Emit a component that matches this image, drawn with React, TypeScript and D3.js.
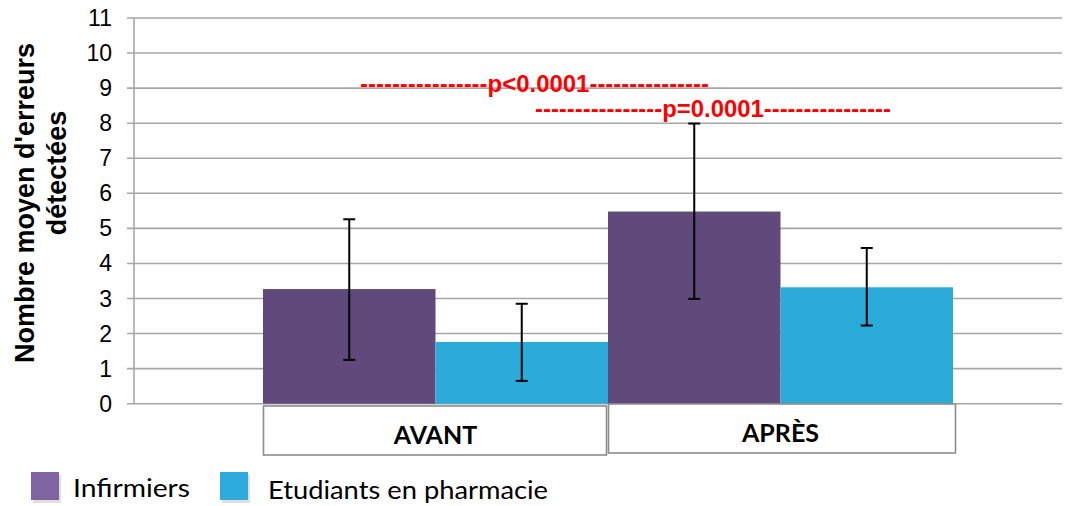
import * as d3 from 'd3';

const categories = ['AVANT', 'APRÈS'];
const series = ['Infirmiers', 'Etudiants en pharmacie'];
const means = [
  [3.27, 1.76],
  [5.48, 3.32],
];
const errLow = [
  [1.25, 0.65],
  [2.99, 2.23],
];
const errHigh = [
  [5.26, 2.85],
  [7.99, 4.44],
];
const yTicks = d3.range(0, 12);
const annotations = [
  { left: 16, label: 'p<0.0001', right: 15 },
  { left: 16, label: 'p=0.0001', right: 16 },
];

const barColors = ['#604a7b', '#2aabd9'];
const legendColors = ['#8064a2', '#2eabdc'];
const W = 1067;
const H = 506;

export default function App() {
  const y = d3.scaleLinear().domain([0, 11]).range([403.7, 18]);
  const x = d3.scaleBand<string>().domain(categories).range([263, 953]).padding(0);
  const xs = d3.scaleBand<string>().domain(series).range([0, x.bandwidth()]).padding(0);
  const axisX = 134;
  const rightX = 1062;
  const arial = '"Liberation Sans", Arial, sans-serif';
  const calibri = 'Lato, "Open Sans", sans-serif';

  return (
    <svg width={W} height={H} style={{ position: 'absolute', left: 0, top: 0, background: '#fff' }}>
      {/* gridlines */}
      {yTicks.map((t) => (
        <line key={t} x1={axisX - 7} x2={rightX} y1={y(t)} y2={y(t)} stroke="#a6a6a6" strokeWidth={1.6} />
      ))}
      <line x1={axisX} x2={axisX} y1={y(11)} y2={y(0)} stroke="#a6a6a6" strokeWidth={1.6} />
      {yTicks.map((t) => (
        <text key={t} x={112} y={y(t) + 8} textAnchor="end" fontFamily={arial} fontSize={23} fill="#000">
          {t}
        </text>
      ))}

      {/* y title */}
      <g transform={`translate(34, 203) rotate(-90)`}>
        <text textAnchor="middle" fontFamily={arial} fontWeight="bold" fontSize={27} fill="#000">
          Nombre moyen d'erreurs
        </text>
      </g>
      <g transform={`translate(66, 173) rotate(-90)`}>
        <text textAnchor="middle" fontFamily={arial} fontWeight="bold" fontSize={27} fill="#000">
          détectées
        </text>
      </g>

      {/* bars */}
      {categories.map((c, ci) =>
        series.map((s, si) => {
          const bx = (x(c) ?? 0) + (xs(s) ?? 0);
          const bw = xs.bandwidth();
          const cx = bx + bw / 2;
          return (
            <g key={c + s}>
              <rect x={bx} y={y(means[ci][si])} width={bw} height={y(0) - y(means[ci][si])} fill={barColors[si]} />
              <line x1={cx} x2={cx} y1={y(errHigh[ci][si])} y2={y(errLow[ci][si])} stroke="#000" strokeWidth={2} />
              <line x1={cx - 6} x2={cx + 6} y1={y(errHigh[ci][si])} y2={y(errHigh[ci][si])} stroke="#000" strokeWidth={2} />
              <line x1={cx - 6} x2={cx + 6} y1={y(errLow[ci][si])} y2={y(errLow[ci][si])} stroke="#000" strokeWidth={2} />
            </g>
          );
        })
      )}

      {/* category boxes */}
      {categories.map((c, ci) => {
        const bx = x(c) ?? 0;
        const top = ci === 0 ? 406 : 404;
        return (
          <g key={c}>
            <rect x={bx + 0.5} y={top} width={x.bandwidth() - (ci === 0 ? 2 : -2)} height={49} fill="#fff" stroke="#8c8c8c" strokeWidth={1.6} />
            <text x={bx + x.bandwidth() / 2} y={top + 38} textAnchor="middle" fontFamily={calibri} fontWeight="bold" fontSize={25} fill="#000">
              {c}
            </text>
          </g>
        );
      })}

      {/* annotations */}
      {annotations.map((a, i) => {
        const left = i === 0 ? 360 : 535;
        const right = i === 0 ? 709 : 891;
        return (
          <text
            key={a.label}
            x={left}
            y={i === 0 ? 92 : 117}
            fontFamily={arial}
            fontWeight="bold"
            fontSize={23}
            fill="#ff0000"
            textLength={right - left}
            lengthAdjust="spacingAndGlyphs"
          >
            {'-'.repeat(a.left) + a.label + '-'.repeat(a.right)}
          </text>
        );
      })}

      {/* legend */}
      {series.map((s, si) => {
        const lx = si === 0 ? 31 : 220;
        const tx = si === 0 ? 73 : 268;
        const tw = si === 0 ? 117 : 280;
        const ty = si === 0 ? 497 : 499;
        return (
          <g key={s}>
            <rect x={lx + 2} y={475} width={28} height={28} fill="#bfbfbf" opacity={0.5} />
            <rect x={lx} y={472} width={28} height={28} fill={legendColors[si]} />
            <text x={tx} y={ty} fontFamily={calibri} fontSize={25} fill="#000" textLength={tw} lengthAdjust="spacingAndGlyphs">
              {s}
            </text>
          </g>
        );
      })}
    </svg>
  );
}
